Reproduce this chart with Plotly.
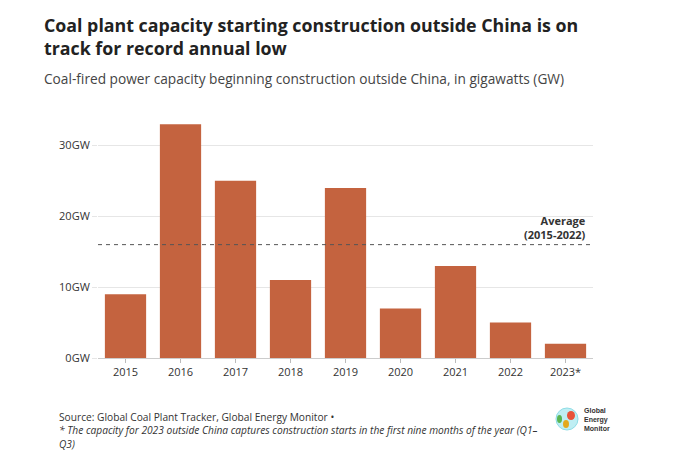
import plotly.graph_objects as go

years = ["2015", "2016", "2017", "2018", "2019", "2020", "2021", "2022", "2023*"]
capacity_gw = [9, 33, 25, 11, 24, 7, 13, 5, 2]
average_gw = 16
y_ticks = [0, 10, 20, 30]
y_tick_labels = ["0GW", "10GW", "20GW", "30GW"]

bar_color = "#C4633F"
font = "Open Sans"

W, H = 680, 458
ML, MR, MT, MB = 98, 87, 110, 100
pw = W - ML - MR
ph = H - MT - MB


def px(x):
    return (x - ML) / pw


def py(y):
    return (H - MB - y) / ph


fig = go.Figure()
fig.add_trace(go.Bar(
    x=years, y=capacity_gw, marker=dict(color=bar_color, line=dict(width=0)),
    hoverinfo="x+y", showlegend=False,
))

fig.add_shape(type="line", xref="paper", yref="y", x0=0, x1=1,
              y0=average_gw, y1=average_gw,
              line=dict(color="#555555", width=1, dash="4px,4px"))
fig.add_annotation(xref="paper", yref="y", x=0.99, y=average_gw,
                   text="<b>Average<br>(2015-2022)</b>", showarrow=False,
                   xanchor="right", yanchor="bottom", align="right",
                   yshift=1, font=dict(family=font, size=11, color="#333333"))

fig.update_layout(
    width=W, height=H,
    margin=dict(l=ML, r=MR, t=MT, b=MB),
    paper_bgcolor="white", plot_bgcolor="white",
    bargap=0.25,
    font=dict(family=font, color="#333333"),
    xaxis=dict(
        type="category", showgrid=False, showline=True, linecolor="#cccccc",
        linewidth=1, ticks="outside", ticklen=4, tickcolor="#bbbbbb",
        tickfont=dict(family=font, size=11, color="#333333"),
    ),
    yaxis=dict(
        range=[0, 35], tickvals=y_ticks, ticktext=y_tick_labels,
        showgrid=True, gridcolor="#e6e6e6", gridwidth=1, zeroline=False,
        ticks="outside", ticklen=5, tickcolor="#e6e6e6",
        tickfont=dict(family=font, size=11, color="#333333"),
    ),
)

fig.add_annotation(xref="paper", yref="paper", x=px(42), y=py(11),
                   text="<b>Coal plant capacity starting construction outside China is on<br>track for record annual low</b>",
                   showarrow=False, xanchor="left", yanchor="top", align="left",
                   font=dict(family=font, size=17.8, color="#222222"))
fig.add_annotation(xref="paper", yref="paper", x=px(42), y=py(67),
                   text="Coal-fired power capacity beginning construction outside China, in gigawatts (GW)",
                   showarrow=False, xanchor="left", yanchor="top", align="left",
                   font=dict(family=font, size=13.7, color="#444444"))
fig.add_annotation(xref="paper", yref="paper", x=px(57), y=py(408),
                   text="Source: Global Coal Plant Tracker, Global Energy Monitor •<br><i>* The capacity for 2023 outside China captures construction starts in the first nine months of the year (Q1–<br>Q3)</i>",
                   showarrow=False, xanchor="left", yanchor="top", align="left",
                   font=dict(family=font, size=10.2, color="#333333"))

# Logo approximation
fig.add_shape(type="circle", xref="paper", yref="paper",
              x0=px(556), x1=px(578), y0=py(430), y1=py(408),
              fillcolor="#bfeef3", line=dict(color="#8fdde6", width=1))
fig.add_shape(type="circle", xref="paper", yref="paper",
              x0=px(567), x1=px(575), y0=py(420), y1=py(411),
              fillcolor="#e8533a", line=dict(width=0))
fig.add_shape(type="circle", xref="paper", yref="paper",
              x0=px(563), x1=px(569), y0=py(428), y1=py(420),
              fillcolor="#e3a81c", line=dict(width=0))
fig.add_shape(type="circle", xref="paper", yref="paper",
              x0=px(557), x1=px(562), y0=py(423), y1=py(415),
              fillcolor="#5ab552", line=dict(width=0))
fig.add_annotation(xref="paper", yref="paper", x=px(582), y=py(419),
                   text="<b>Global<br>Energy<br>Monitor</b>", showarrow=False,
                   xanchor="left", yanchor="middle", align="left",
                   font=dict(family="Liberation Sans", size=7, color="#333333"))

fig.write_html("out.html")
